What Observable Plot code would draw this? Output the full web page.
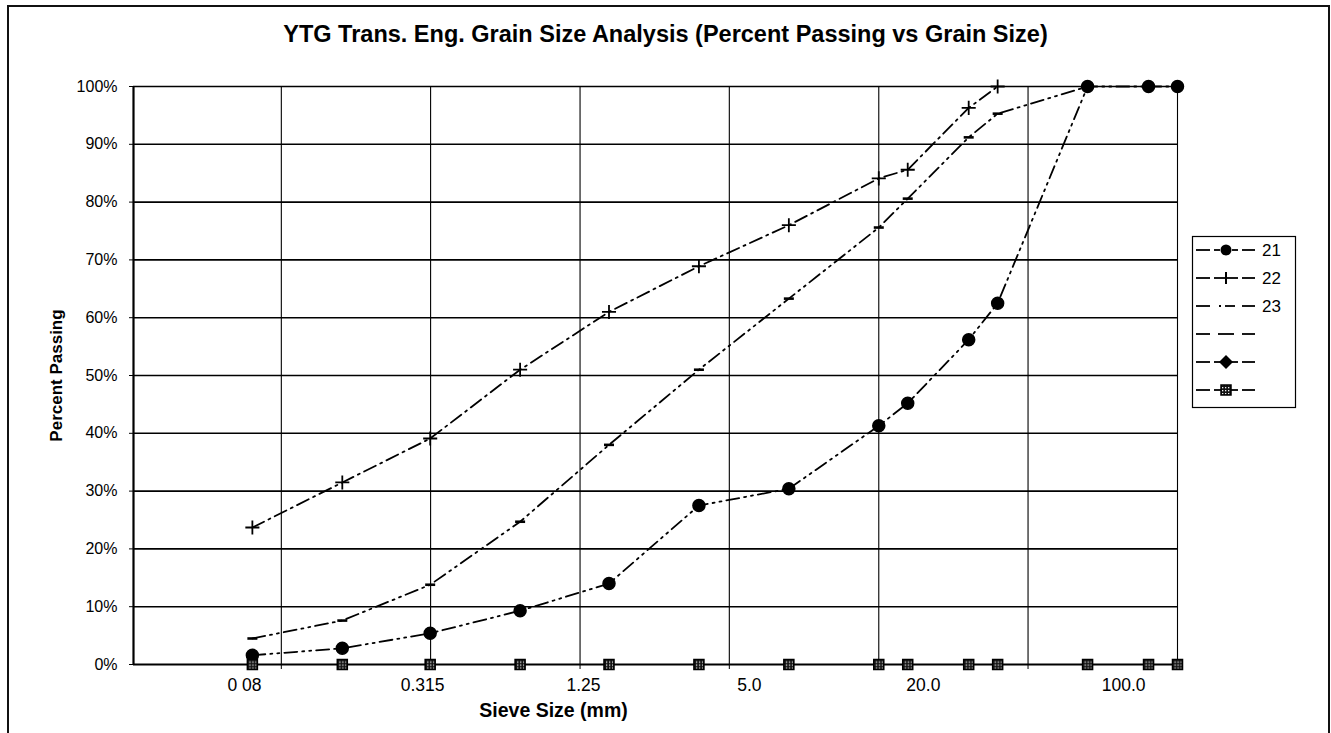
<!DOCTYPE html>
<html><head><meta charset="utf-8">
<script src="https://cdn.jsdelivr.net/npm/d3@7"></script>
<script src="https://cdn.jsdelivr.net/npm/@observablehq/plot@0.6"></script>
<style>
body{margin:0;background:#fff;font-family:"Liberation Sans",Arial,sans-serif;color:#000;}
#wrap{position:relative;width:1331px;height:733px;overflow:hidden;background:#fff;}
#border{position:absolute;left:7px;top:5px;width:1323px;height:800px;border:2px solid #111;box-sizing:border-box;}
#title{position:absolute;left:0;width:1331px;top:23px;text-align:center;font-weight:bold;font-size:23.5px;line-height:1;white-space:nowrap;}
#chart{position:absolute;left:0;top:60px;}
#legend{position:absolute;left:1192px;top:236px;}
</style></head>
<body>
<div id="wrap">
  <div id="border"></div>
  <div id="title">YTG Trans. Eng. Grain Size Analysis (Percent Passing vs Grain Size)</div>
  <div id="chart"></div>
  <div id="legend"></div>
</div>
<script>
// ---- data ----
const sieve = [0.08, 0.16, 0.315, 0.63, 1.25, 2.5, 5, 10, 12.5, 20, 25, 50, 80, 100];
const s21 = [1.6, 2.8, 5.4, 9.3, 14.0, 27.5, 30.4, 41.3, 45.2, 56.2, 62.5, 100, 100, 100];
const s22 = [23.7, 31.5, 39.1, 51.0, 61.0, 68.9, 76.0, 84.1, 85.6, 96.3, 100, null, null, null];
const s23 = [4.5, 7.6, 13.8, 24.7, 38.0, 51.0, 63.3, 75.6, 80.6, 91.2, 95.3, 100, null, null];
const s26 = [0, 0, 0, 0, 0, 0, 0, 0, 0, 0, 0, 0, 0, 0];
const seriesNames = ["21", "22", "23", "", "", ""];
const yTicks = [0, 10, 20, 30, 40, 50, 60, 70, 80, 90, 100];
const xGrid = [0.1, 0.316, 1, 3.16, 10, 31.6, 100];
const xLabelAt = [0.0753, 0.297, 1.027, 3.69, 14.1, 66.0];
const xLabels = ["0 08", "0.315", "1.25", "5.0", "20.0", "100.0"];
const xDomain = [0.032, 100];

// ---- build rows ----
const toRows = (vals) => sieve.map((x, i) => ({x, y: vals[i]})).filter(d => d.y != null);
const r21 = toRows(s21), r22 = toRows(s22), r23 = toRows(s23), r26 = toRows(s26);
const labelRows = xLabelAt.map((x, i) => ({x, label: xLabels[i]}));
const dashSymbol = {draw(ctx, size) { const r = Math.sqrt(size / Math.PI); ctx.moveTo(-r, 0); ctx.lineTo(r, 0); }};
const font = "Liberation Sans, Arial, sans-serif";

const plot = Plot.plot({
  width: 1331, height: 673,
  marginTop: 26, marginBottom: 69, marginLeft: 133, marginRight: 154,
  style: {fontFamily: font, fontSize: "16px", color: "#000", background: "transparent", overflow: "visible"},
  x: {type: "log", domain: xDomain},
  y: {domain: [0, 100]},
  marks: [
    Plot.ruleX(xGrid, {stroke: "#000", strokeWidth: 1.1}),
    Plot.ruleY(yTicks.filter(d => d > 0), {stroke: "#000", strokeWidth: 1.6}),
    Plot.ruleX([xDomain[0]], {stroke: "#000", strokeWidth: 2.2}),
    Plot.ruleY([0], {stroke: "#000", strokeWidth: 2.2}),
    Plot.axisY({ticks: yTicks, tickFormat: d => d + "%", tickSize: 4, tickPadding: 12, fontSize: 16, label: null, stroke: "#000"}),
    Plot.axisX({ticks: xGrid.slice(0, -1), tickFormat: () => "", tickSize: 5, label: null, stroke: "#000"}),
    Plot.text(labelRows, {x: "x", text: "label", frameAnchor: "bottom", lineAnchor: "top", dy: 14, fontSize: 17.5}),
    Plot.text(["Percent Passing"], {frameAnchor: "left", textAnchor: "middle", rotate: -90, dx: -77, fontWeight: "bold", fontSize: 17}),
    Plot.text(["Sieve Size (mm)"], {frameAnchor: "bottom", textAnchor: "middle", lineAnchor: "middle", dx: -102, dy: 46, fontWeight: "bold", fontSize: 19.5}),
    Plot.line(r23, {x: "x", y: "y", stroke: "#000", strokeWidth: 1.8, strokeDasharray: "13,5,2,5,2,5"}),
    Plot.line(r22, {x: "x", y: "y", stroke: "#000", strokeWidth: 1.8, strokeDasharray: "13,5,2,5"}),
    Plot.line(r21, {x: "x", y: "y", stroke: "#000", strokeWidth: 1.8, strokeDasharray: "13,5,2,5,2,5"}),
    Plot.dot(r23, {x: "x", y: "y", symbol: dashSymbol, r: 5, fill: "none", stroke: "#000", strokeWidth: 2.6}),
    Plot.dot(r22, {x: "x", y: "y", symbol: "plus", r: 4.6, stroke: "#000", strokeWidth: 1.8}),
    Plot.dot(r21, {x: "x", y: "y", symbol: "circle", r: 6, fill: "#000", stroke: "#000"}),
    Plot.dot(r26, {x: "x", y: "y", symbol: "square", r: 5.6, fill: "url(#chk)", stroke: "#000", strokeWidth: 1.6})
  ]
});
const defs = d3.select(plot).insert("defs", ":first-child");
const pat = defs.append("pattern").attr("id", "chk").attr("width", 3).attr("height", 3).attr("patternUnits", "userSpaceOnUse");
pat.append("rect").attr("width", 3).attr("height", 3).attr("fill", "#111");
pat.append("rect").attr("width", 1.3).attr("height", 1.3).attr("fill", "#eee");
document.getElementById("chart").appendChild(plot);

// ---- legend ----
const lg = d3.select("#legend").append("svg").attr("width", 106).attr("height", 174)
  .style("font-family", font).style("overflow", "visible");
const ldefs = lg.append("defs");
const lp = ldefs.append("pattern").attr("id", "chk2").attr("width", 3).attr("height", 3).attr("patternUnits", "userSpaceOnUse");
lp.append("rect").attr("width", 3).attr("height", 3).attr("fill", "#111");
lp.append("rect").attr("width", 1.3).attr("height", 1.3).attr("fill", "#eee");
lg.append("rect").attr("x", 0.5).attr("y", 0.5).attr("width", 103).attr("height", 171).attr("fill", "#fff").attr("stroke", "#000").attr("stroke-width", 1.2);
const rowY = i => 14 + i * 28;
seriesNames.forEach((name, i) => {
  const g = lg.append("g").attr("transform", `translate(0,${rowY(i)})`);
  const seg = (a, b) => g.append("line").attr("x1", a).attr("x2", b).attr("y1", 0).attr("y2", 0).attr("stroke", "#000").attr("stroke-width", 1.8);
  seg(4, 18); seg(50, 63);
  if (i === 0) { seg(22, 28); seg(40, 46); g.append("circle").attr("cx", 34).attr("cy", 0).attr("r", 5.5).attr("fill", "#000"); }
  if (i === 1) { seg(22, 46); g.append("path").attr("d", "M34,-6V6").attr("stroke", "#000").attr("stroke-width", 2); }
  if (i === 2) { seg(27, 29); seg(33, 43); }
  if (i === 3) seg(26, 42);
  if (i === 4) { seg(22, 46); g.append("path").attr("d", "M34,-7L41,0L34,7L27,0Z").attr("fill", "#000"); }
  if (i === 5) { seg(22, 46); g.append("rect").attr("x", 29).attr("y", -5).attr("width", 10).attr("height", 10).attr("fill", "url(#chk2)").attr("stroke", "#000").attr("stroke-width", 1.5); }
  if (name) g.append("text").attr("x", 70).attr("y", 0).attr("dy", "0.35em").attr("font-size", 17).text(name);
});
</script>
</body></html>
